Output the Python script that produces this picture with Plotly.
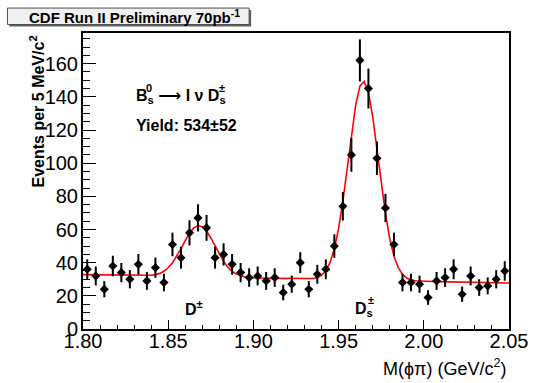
import numpy as np
import plotly.graph_objects as go

# ---------------- data ----------------
bin_low = 1.80
bin_width = 0.005
counts = [36, 32, 24, 38, 34, 30, 39, 29, 37, 28,
          51, 43, 58, 67, 61, 43, 45, 39, 34, 31,
          32, 29, 31, 22, 27, 40, 24, 33, 36, 50,
          74, 105, 162, 145, 103, 73, 51, 28, 28, 27,
          19, 29, 31, 36, 21, 32, 25, 26, 30, 35]
errors = [6.0, 5.7, 4.9, 6.2, 5.8, 5.5, 6.2, 5.4, 6.1, 5.3,
          7.1, 6.6, 7.6, 8.2, 7.8, 6.6, 6.7, 6.2, 5.8, 5.6,
          5.7, 5.4, 5.6, 4.7, 5.2, 6.3, 4.9, 5.7, 6.0, 7.1,
          8.6, 10.2, 12.7, 12.0, 10.1, 8.5, 7.1, 5.3, 5.3, 5.2,
          4.4, 5.4, 5.6, 6.0, 4.6, 5.7, 5.0, 5.1, 5.5, 5.9]
# fit: linear background + two gaussians (D+ and Ds)
bkg_p0 = 32.8      # background at 1.80
bkg_slope = -20.4  # per GeV
d_amp, d_mean, d_sigma = 31.0, 1.868, 0.0095
ds_amp, ds_mean, ds_sigma = 120.0, 1.9645, 0.0088

x_ticks = [1.80, 1.85, 1.90, 1.95, 2.00, 2.05]
x_ticklabels = ["1.80", "1.85", "1.90", "1.95", "2.00", "2.05"]
y_ticks = [0, 20, 40, 60, 80, 100, 120, 140, 160]

centers = bin_low + bin_width * (np.arange(len(counts)) + 0.5)
xf = np.linspace(1.80, 2.05, 101)
yf = (bkg_p0 + bkg_slope * (xf - 1.80)
      + d_amp * np.exp(-0.5 * ((xf - d_mean) / d_sigma) ** 2)
      + ds_amp * np.exp(-0.5 * ((xf - ds_mean) / ds_sigma) ** 2))

# ---------------- layout geometry (pixels) ----------------
W, H = 539, 383
L, R, T, B = 83, 508.7, 32.5, 329.3
PW, PH = R - L, B - T


def px(x):
    return (x - L) / PW


def py(y):
    return (B - y) / PH


FONT = "Liberation Sans, Arial, Helvetica, sans-serif"

fig = go.Figure()
fig.add_trace(go.Scatter(
    x=xf, y=yf, mode="lines", line=dict(color="#ff0000", width=1.6),
    hoverinfo="skip", showlegend=False))
fig.add_trace(go.Scatter(
    x=centers, y=counts, mode="markers",
    marker=dict(symbol="diamond", size=7, color="black"),
    error_y=dict(type="data", array=errors, visible=True,
                 color="black", thickness=2, width=0),
    showlegend=False))

fig.update_layout(
    width=W, height=H,
    margin=dict(l=L, r=W - R, t=T, b=H - B, pad=0),
    paper_bgcolor="white", plot_bgcolor="white",
    font=dict(family=FONT, color="black"),
    showlegend=False,
    xaxis=dict(range=[1.80, 2.05], tickvals=x_ticks, ticktext=x_ticklabels,
               ticks="inside", ticklen=9, tickwidth=1, tickcolor="black",
               minor=dict(dtick=0.01, ticks="inside", ticklen=4.5,
                          tickwidth=1, tickcolor="black"),
               showline=True, linecolor="black", linewidth=2, mirror=True,
               showgrid=False, zeroline=False, ticklabelstandoff=-7,
               tickfont=dict(size=20, family=FONT)),
    yaxis=dict(range=[0, 178.5], tickvals=y_ticks,
               ticks="inside", ticklen=13, tickwidth=1, tickcolor="black",
               minor=dict(dtick=5, ticks="inside", ticklen=6.5,
                          tickwidth=1, tickcolor="black"),
               showline=True, linecolor="black", linewidth=2, mirror=True,
               showgrid=False, zeroline=False, ticklabelstandoff=-1,
               tickfont=dict(size=20, family=FONT)),
)

# title box with shadow
fig.add_shape(type="rect", xref="paper", yref="paper",
              x0=px(9.5), x1=px(251), y0=py(26), y1=py(9.5),
              fillcolor="#606060", line=dict(width=0), layer="above")
fig.add_shape(type="rect", xref="paper", yref="paper",
              x0=px(7.5), x1=px(249), y0=py(24), y1=py(7.5),
              fillcolor="#f0f0f0", line=dict(color="#505050", width=1),
              layer="above")

ann = []
ann.append(dict(text="<b>CDF Run II Preliminary 70pb<sup>-1</sup></b>",
                x=px(134), y=py(16), xanchor="center", yanchor="middle",
                font=dict(size=15)))
ann.append(dict(text="<b>Events per 5 MeV/c<sup>2</sup></b>", textangle=-90,
                x=px(38), y=py(33), xanchor="center", yanchor="top",
                font=dict(size=16)))
ann.append(dict(text="M(ϕπ) (GeV/c<sup>2</sup>)",
                x=px(509), y=py(368), xanchor="right", yanchor="middle",
                font=dict(size=18)))
ann.append(dict(text="<b>B<sub>s</sub> <span style=\"font-family:'DejaVu Sans'\">⟶</span> l ν D<sub>s</sub></b>",
                x=px(134), y=py(96), xanchor="left", yanchor="middle",
                font=dict(size=16)))
ann.append(dict(text="<b>0</b>", x=px(149), y=py(88), xanchor="center",
                yanchor="middle", font=dict(size=11)))
ann.append(dict(text="<b>±</b>", x=px(222), y=py(88), xanchor="center",
                yanchor="middle", font=dict(size=11)))
ann.append(dict(text="<b>Yield: 534±52</b>",
                x=px(134), y=py(125), xanchor="left", yanchor="middle",
                font=dict(size=16)))
ann.append(dict(text="<b>D<sup>±</sup></b>",
                x=px(194), y=py(308), xanchor="center", yanchor="middle",
                font=dict(size=16)))
ann.append(dict(text="<b>D<sub>s</sub></b>",
                x=px(364), y=py(310), xanchor="center", yanchor="middle",
                font=dict(size=16)))
ann.append(dict(text="<b>±</b>", x=px(371), y=py(300), xanchor="center",
                yanchor="middle", font=dict(size=11)))
for a in ann:
    a.update(xref="paper", yref="paper", showarrow=False)
    fig.add_annotation(**a)

fig.write_html("out.html", config={"displayModeBar": False},
               post_script="document.body.style.margin='0';"
                           "document.body.style.overflow='hidden';")
